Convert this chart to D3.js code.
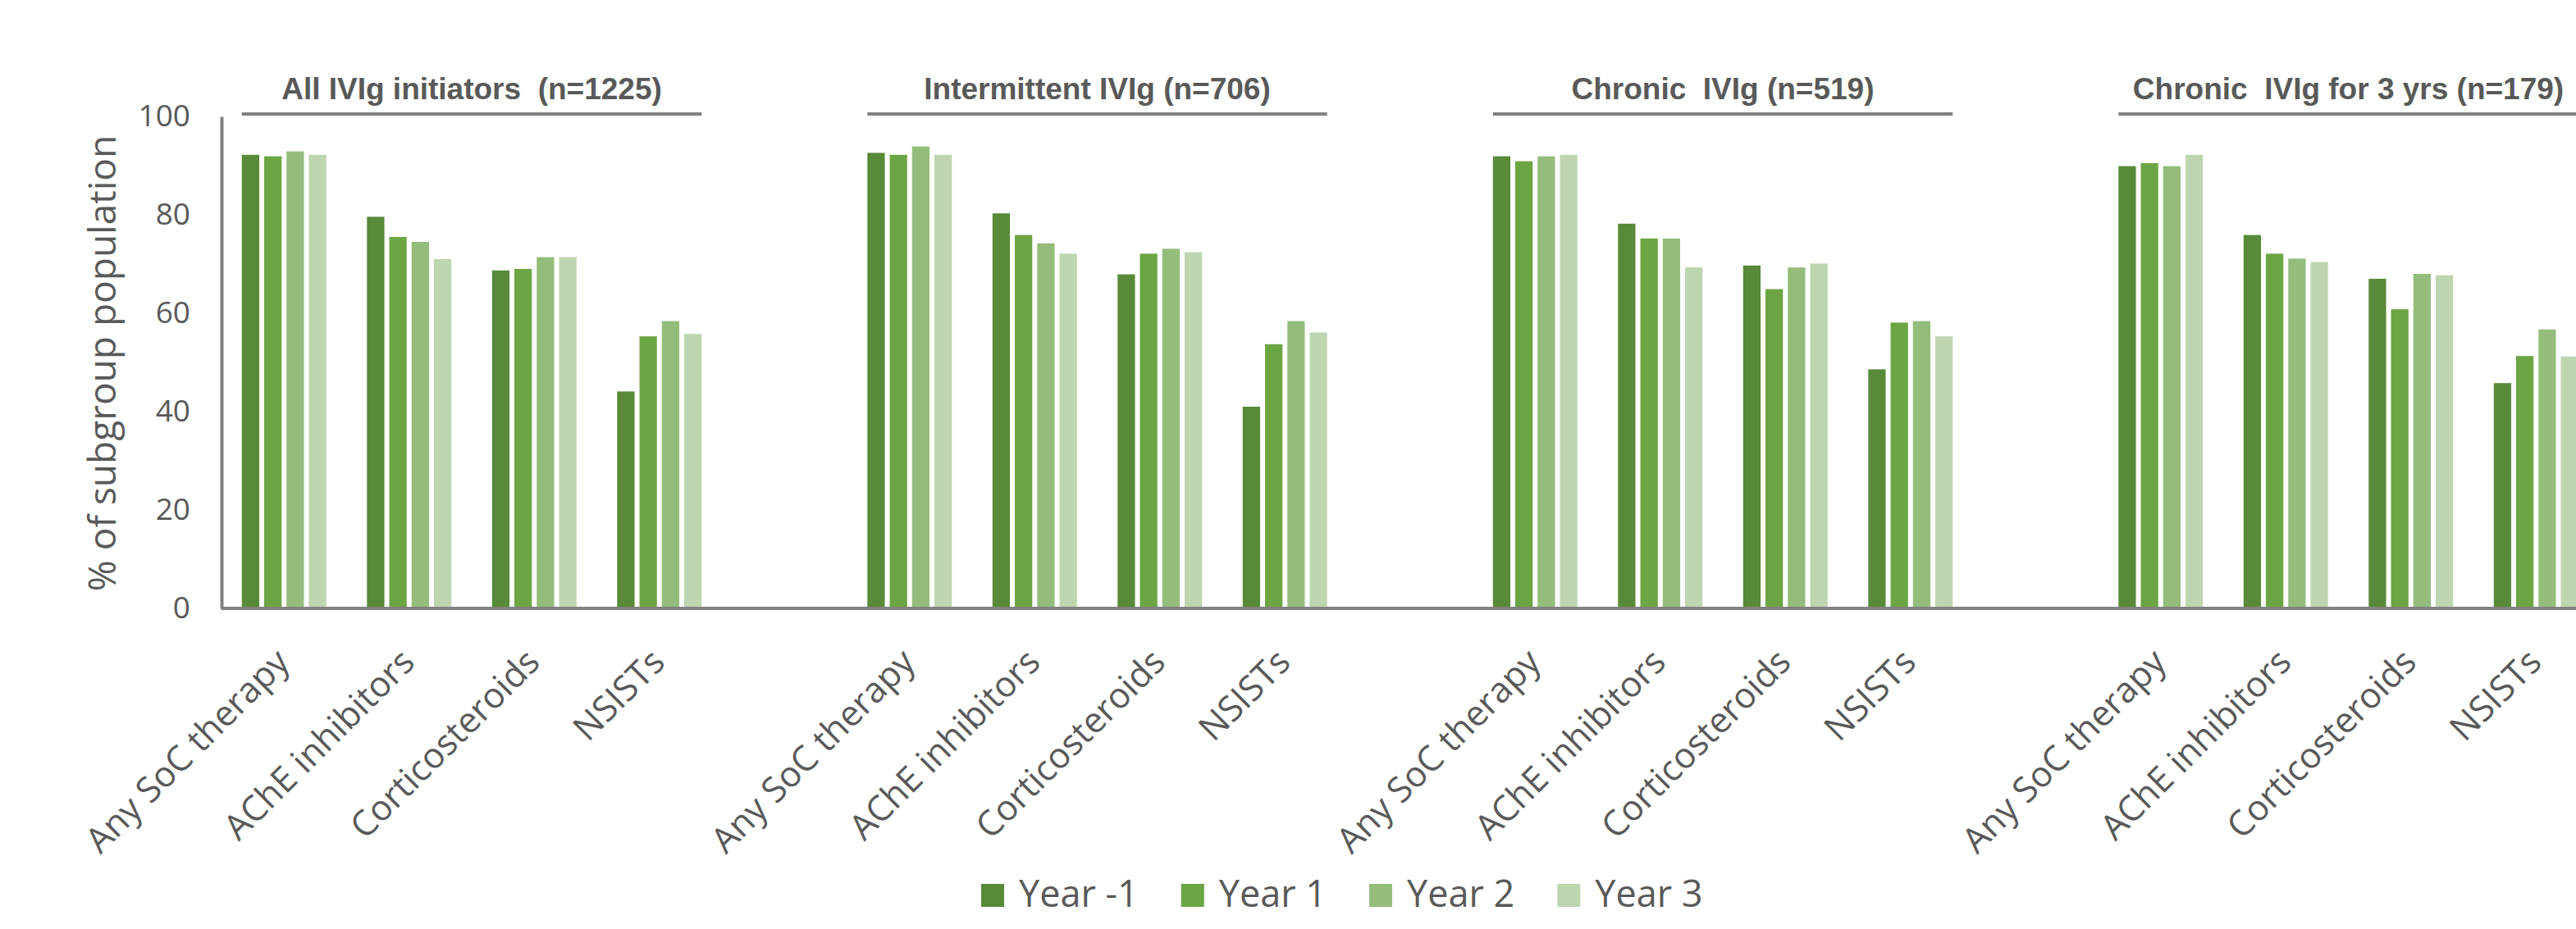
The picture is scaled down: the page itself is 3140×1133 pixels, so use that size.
<!DOCTYPE html>
<html>
<head>
<meta charset="utf-8">
<script src="https://cdn.jsdelivr.net/npm/d3@7"></script>
<style>
  body { margin: 0; background: #fff; }
  text { font-family: "Open Sans", sans-serif; fill: #595959; }
  .groupTitle { font-family: "Liberation Sans Narrow", sans-serif; font-weight: bold; font-size: 37px; white-space: pre; }
</style>
</head>
<body>
<div id="chart"></div>
<script>
// subgroups (one block of bars each) and the therapy categories inside them
const groups = ["All IVIg initiators  (n=1225)", "Intermittent IVIg (n=706)", "Chronic  IVIg (n=519)", "Chronic  IVIg for 3 yrs (n=179)"];
const categories = ["Any SoC therapy", "AChE inhibitors", "Corticosteroids", "NSISTs"];
const years = ["Year -1", "Year 1", "Year 2", "Year 3"];
const yearColors = ["#588a39", "#6ca543", "#94bd7c", "#bed6b0"];
const yTicks = [0, 20, 40, 60, 80, 100];

// % of subgroup population, one row per category: [Year -1, Year 1, Year 2, Year 3]
const allIVIg = [[92.2, 91.9, 92.9, 92.2], [79.6, 75.5, 74.5, 71.0], [68.7, 69.0, 71.4, 71.4], [44.1, 55.3, 58.4, 55.8]];
const intermittent = [[92.6, 92.2, 93.9, 92.2], [80.3, 75.9, 74.2, 72.1], [67.9, 72.1, 73.1, 72.4], [41.0, 53.7, 58.4, 56.1]];
const chronic = [[91.9, 90.9, 91.9, 92.2], [78.2, 75.2, 75.2, 69.3], [69.7, 64.9, 69.3, 70.1], [48.6, 58.1, 58.4, 55.3]];
const chronic3yrs = [[89.9, 90.5, 89.9, 92.2], [75.9, 72.1, 71.1, 70.4], [67.0, 60.8, 68.0, 67.7], [45.8, 51.3, 56.7, 51.2]];
const groupValues = [allIVIg, intermittent, chronic, chronic3yrs];

const width = 3140, height = 1133;
const margin = {left: 270, top: 142, bottom: 391};
const axisY = height - margin.bottom;

const svg = d3.select("#chart").append("svg")
    .attr("width", width)
    .attr("height", height);

// one slot per category, plus an empty slot between subgroups
let slots = [];
groups.forEach(function(g, gi) {
    categories.forEach(function(c, ci) { slots.push(gi + "|" + ci); });
    if (gi < groups.length - 1) slots.push(gi + "|gap");
});

const xScale = d3.scaleBand()
    .domain(slots)
    .range([margin.left, margin.left + 152.5 * slots.length])
    .paddingInner(0.325)
    .paddingOuter(0.1625);

const xSub = d3.scaleBand()
    .domain(years)
    .range([0, xScale.bandwidth()])
    .paddingInner(0.22);

const yScale = d3.scaleLinear()
    .domain([0, 100])
    .range([axisY, margin.top]);

// flatten into bar records
let bars = [];
groupValues.forEach(function(rows, gi) {
    rows.forEach(function(vals, ci) {
        vals.forEach(function(v, yi) {
            bars.push({slot: gi + "|" + ci, year: years[yi], value: v, color: yearColors[yi]});
        });
    });
});

svg.selectAll("rect.bar")
    .data(bars)
    .enter()
    .append("rect")
        .attr("class", "bar")
        .attr("x", function(d) { return xScale(d.slot) + xSub(d.year); })
        .attr("y", function(d) { return yScale(d.value); })
        .attr("width", xSub.bandwidth())
        .attr("height", function(d) { return axisY - yScale(d.value); })
        .attr("fill", function(d) { return d.color; });

// y axis
const yAxis = svg.append("g")
    .attr("transform", `translate(${margin.left},0)`)
    .call(d3.axisLeft(yScale).tickValues(yTicks).tickSize(0).tickSizeOuter(0).tickPadding(38));
yAxis.select(".domain").attr("stroke", "#808080").attr("stroke-width", 4);
yAxis.selectAll("text").style("font-size", "37px").attr("fill", "#595959");

// x axis with rotated category labels
const xAxis = svg.append("g")
    .attr("transform", `translate(0,${axisY})`)
    .call(d3.axisBottom(xScale).tickSize(0).tickSizeOuter(0)
        .tickFormat(function(k) {
            const ci = k.split("|")[1];
            return ci === "gap" ? "" : categories[+ci];
        }));
xAxis.select(".domain").attr("stroke", "#808080").attr("stroke-width", 4)
    .attr("d", `M${margin.left},0H${width + 10}`);
xAxis.selectAll("text")
    .attr("x", 0).attr("y", 0).attr("dy", 0)
    .attr("text-anchor", "end")
    .attr("transform", "translate(9,68) rotate(-45)")
    .style("font-size", "43px")
    .attr("fill", "#595959");

// y axis title
svg.append("text")
    .attr("transform", "rotate(-90)")
    .attr("x", -443)
    .attr("y", 141)
    .attr("text-anchor", "middle")
    .style("font-size", "46px")
    .text("% of subgroup population");

// subgroup titles with underline
groups.forEach(function(g, gi) {
    const x0 = xScale(gi + "|0");
    const x1 = xScale(gi + "|3") + xScale.bandwidth();
    svg.append("line")
        .attr("x1", x0).attr("x2", x1)
        .attr("y1", 139).attr("y2", 139)
        .attr("stroke", "#808080")
        .attr("stroke-width", 4);
    svg.append("text")
        .attr("class", "groupTitle")
        .attr("x", (x0 + x1) / 2)
        .attr("y", 121)
        .attr("text-anchor", "middle")
        .text(g);
});

// legend
const legend = svg.append("g").attr("transform", "translate(1196,1078)");
let lx = 0;
years.forEach(function(yr, i) {
    const item = legend.append("g").attr("transform", `translate(${lx},0)`);
    item.append("rect")
        .attr("width", 28).attr("height", 28)
        .attr("fill", yearColors[i]);
    const t = item.append("text")
        .attr("x", 46)
        .attr("y", 28)
        .style("font-size", "45px")
        .text(yr);
    lx += 46 + t.node().getComputedTextLength() + 52;
});
</script>
</body>
</html>
